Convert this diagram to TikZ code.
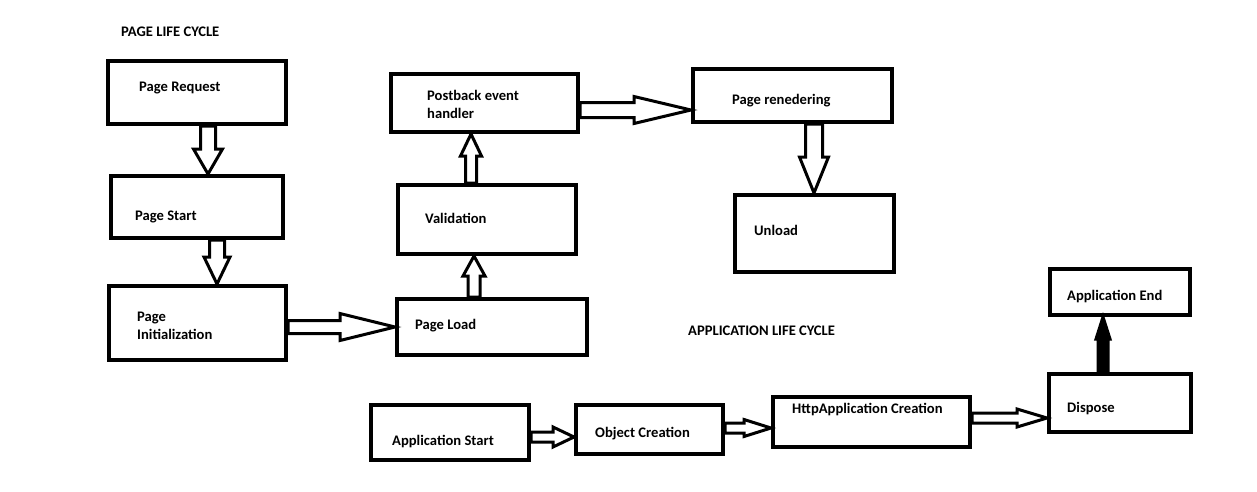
\documentclass[tikz,border=0pt]{standalone}
\usepackage{fontspec}
\setmainfont{Carlito}
\usetikzlibrary{calc}

% hollow block arrow: [style] from, to, shaft half width, head half width, head length
\newcommand\blockarrow[6][]{%
  \coordinate (ah) at ($(#3)!#6!(#2)$);
  \draw [flow, #1] ($(#2)!#4!90:(#3)$) -- ($(ah)!#4!-90:(#2)$) -- ($(ah)!#5!-90:(#2)$)
    -- (#3) -- ($(ah)!#5!90:(#2)$) -- ($(ah)!#4!90:(#2)$) -- ($(#2)!#4!-90:(#3)$) -- cycle;
}

\tikzset{
  stage/.style={draw, line width=4pt, inner sep=0pt},
  lbl/.style={font=\fontsize{14.6}{17.5}\selectfont\bfseries, inner sep=0pt, anchor=base west, align=left},
  flow/.style={draw, line width=3pt, fill=white, line join=miter},
}

\begin{document}
\begin{tikzpicture}[x=1pt, y=-1pt]
		\fill [white] (0, 0) rectangle (1257, 491);
		\useasboundingbox (0, 0) rectangle (1257, 491);

		% page life cycle
		\node [lbl] (pagetitle) at (121, 36) {PAGE LIFE CYCLE};
		\node [stage, minimum width=178pt, minimum height=63pt] (req) at (197, 92.5) {};
		\node [stage, minimum width=172pt, minimum height=62pt] (start) at (197, 207) {};
		\node [stage, minimum width=177pt, minimum height=74pt] (init) at (197.5, 323) {};
		\node [stage, minimum width=190pt, minimum height=56pt] (load) at (492, 327) {};
		\node [stage, minimum width=178pt, minimum height=69pt] (valid) at (487, 219.5) {};
		\node [stage, minimum width=187pt, minimum height=58pt] (postb) at (484.5, 103) {};
		\node [stage, minimum width=199pt, minimum height=53pt] (render) at (792.5, 95.5) {};
		\node [stage, minimum width=159pt, minimum height=77pt] (unload) at (814.5, 233.5) {};
		\node [lbl] (req-t) at (139, 91) {Page Request};
		\node [lbl] (start-t) at (135, 220) {Page Start};
		\node [lbl] (init-t) at (137, 339) {Page\\Initialization};
		\node [lbl] (load-t) at (415, 329) {Page Load};
		\node [lbl] (valid-t) at (425, 223) {Validation};
		\node [lbl] (postb-t) at (427, 118) {Postback event\\handler};
		\node [lbl] (render-t) at (732, 104) {Page renedering};
		\node [lbl] (unload-t) at (754, 235) {Unload};

		\blockarrow{[xshift=11pt]req.south}{[xshift=11pt]start.north}{7.5pt}{14.5pt}{25pt}
		\blockarrow{[xshift=20pt]start.south}{[xshift=19.5pt]init.north}{7.5pt}{13pt}{27pt}
		\blockarrow{[yshift=-4pt]init.east}{load.west}{6.5pt}{13.5pt}{55pt}
		\blockarrow{[xshift=-18pt]load.north}{[xshift=-13pt]valid.south}{6pt}{11pt}{20pt}
		\blockarrow{[xshift=-16pt]valid.north}{[xshift=-13.5pt]postb.south}{5.5pt}{10.5pt}{22pt}
		\blockarrow{[yshift=-7pt]postb.east}{[yshift=-14.5pt]render.west}{7.5pt}{13.5pt}{57pt}
		\blockarrow{[xshift=21.5pt]render.south}{[xshift=-0.5pt]unload.north}{8.5pt}{14.5pt}{36pt}

		% application life cycle
		\node [lbl] (apptitle) at (688, 335) {APPLICATION LIFE CYCLE};
		\node [stage, minimum width=158pt, minimum height=55pt] (appstart) at (450, 432.5) {};
		\node [stage, minimum width=147pt, minimum height=49pt] (obj) at (649.5, 429.5) {};
		\node [stage, minimum width=197pt, minimum height=50pt] (http) at (871.5, 422) {};
		\node [stage, minimum width=142pt, minimum height=58pt] (dispose) at (1120, 403) {};
		\node [stage, minimum width=140pt, minimum height=46pt] (append) at (1120, 292) {};
		\node [lbl] (appstart-t) at (392, 445) {Application Start};
		\node [lbl] (obj-t) at (595, 437) {Object Creation};
		\node [lbl] (http-t) at (792, 413) {HttpApplication Creation};
		\node [lbl] (dispose-t) at (1067, 412) {Dispose};
		\node [lbl] (append-t) at (1067, 300) {Application End};

		\blockarrow{[yshift=-4.5pt]appstart.east}{[yshift=-7.5pt]obj.west}{5pt}{10pt}{21pt}
		\blockarrow{[yshift=1.5pt]obj.east}{[yshift=-6pt]http.west}{5pt}{8.5pt}{27pt}
		\blockarrow{[yshift=4pt]http.east}{[yshift=-15pt]dispose.west}{5pt}{9pt}{30pt}
		\blockarrow[fill=black]{[xshift=-17pt]dispose.north}{[xshift=-17pt]append.south}{5pt}{7pt}{22pt}
	\end{tikzpicture}
\end{document}
